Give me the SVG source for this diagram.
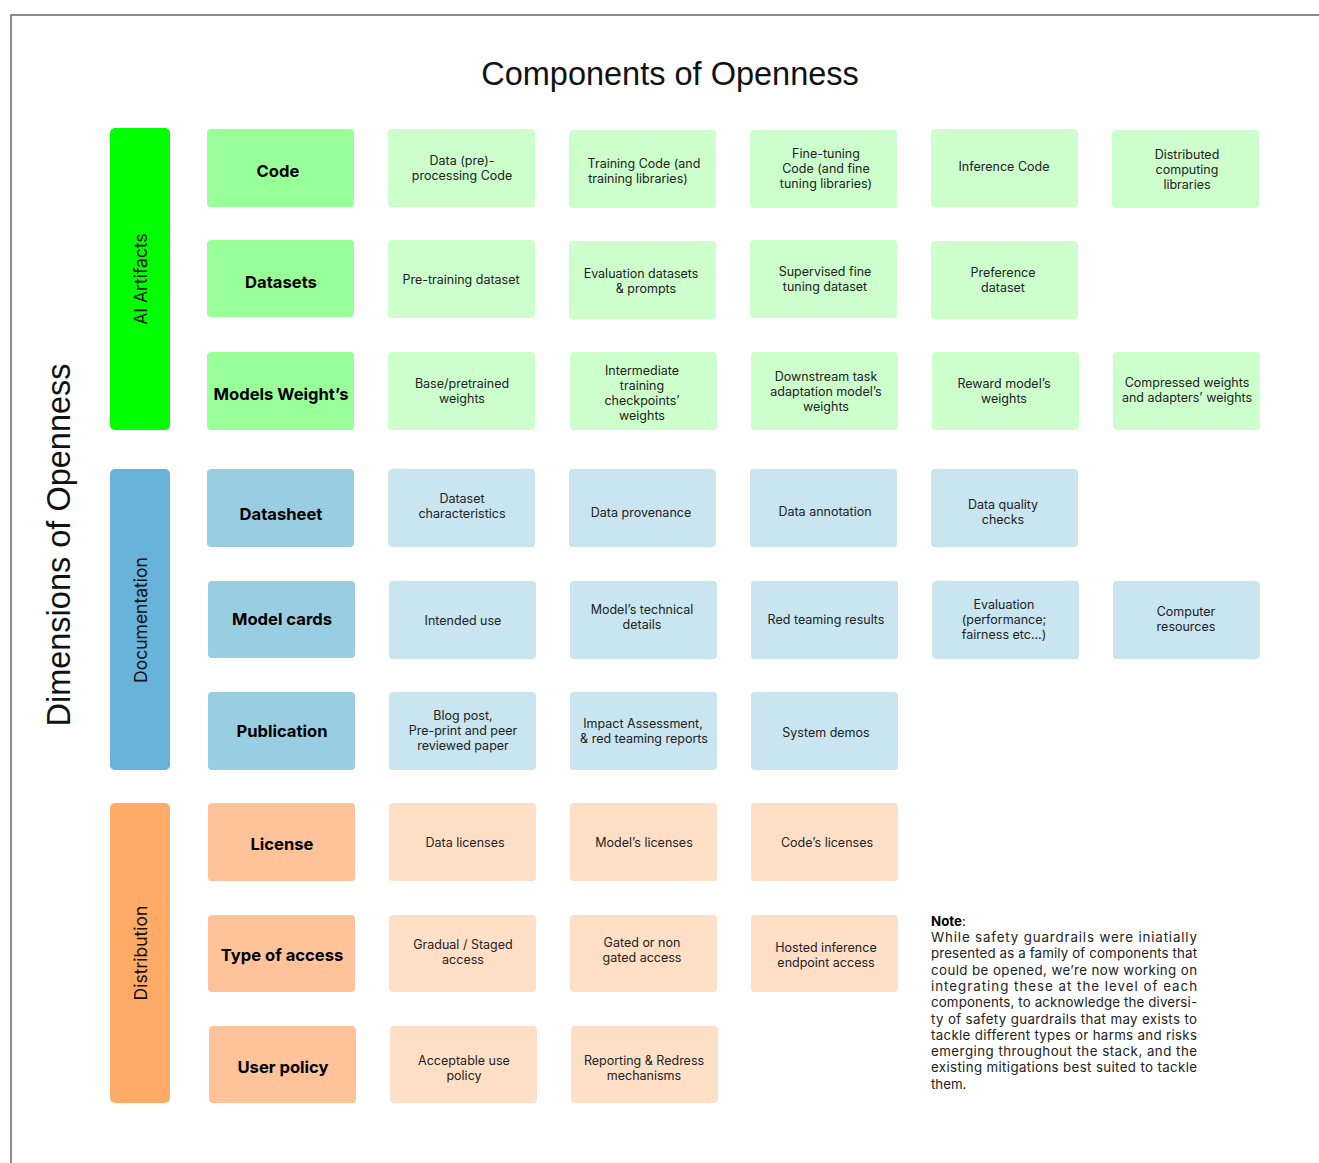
<svg xmlns="http://www.w3.org/2000/svg" width="1319" height="1163" viewBox="0 0 1319 1163">
<style>
.bg{fill:#ffffff}
.frame{fill:none;stroke:#666666;stroke-width:1.5}
.title{font-family:"Liberation Sans",Arial,sans-serif;font-size:32.5px;fill:#111111}
.barlabel{font-family:Inter,"Noto Sans",sans-serif;font-size:17.5px;fill:#111111;text-anchor:middle}
.hdr{font-family:Inter,"Noto Sans",sans-serif;font-size:16.6px;font-weight:700;fill:#000000;text-anchor:middle}
.cell{font-family:Inter,"Noto Sans",sans-serif;font-size:12.5px;fill:#222222;text-anchor:middle}
.gbar{fill:#00FF00}.ghdr{fill:#99FF99}.gcell{fill:#CCFFCC}
.bbar{fill:#67B3D9}.bhdr{fill:#99CDE1}.bcell{fill:#C8E5F0}
.obar{fill:#FFAA66}.ohdr{fill:#FFC299}.ocell{fill:#FFE0C6}
.note{font-family:Inter,"Noto Sans",sans-serif;font-size:13.3px;fill:#222222}
</style>
<rect class="bg" x="0" y="0" width="1319" height="1163"/>
<path class="frame" d="M11,1163 V15 H1319"/>
<text class="title" x="670" y="85" text-anchor="middle">Components of Openness</text>
<text class="title" transform="translate(70,545) rotate(-90)" text-anchor="middle">Dimensions of Openness</text>

<g id="bar-ai-artifacts"><rect class="gbar" x="110" y="128" width="60" height="302" rx="5"/><text class="barlabel" transform="translate(146.5,279) rotate(-90)">AI Artifacts</text></g>
<g id="bar-documentation"><rect class="bbar" x="110" y="469" width="60" height="301" rx="5"/><text class="barlabel" transform="translate(146.5,620) rotate(-90)">Documentation</text></g>
<g id="bar-distribution"><rect class="obar" x="110" y="803" width="60" height="300" rx="5"/><text class="barlabel" transform="translate(146.5,953) rotate(-90)">Distribution</text></g>

<!-- Row 1 -->
<g id="code"><rect class="ghdr" x="207" y="129" width="147" height="78" rx="4"/><text class="hdr" x="278" y="177">Code</text></g>
<g id="data-preprocessing-code"><rect class="gcell" x="388" y="129" width="147" height="78" rx="4"/><text class="cell" x="462" y="165">Data (pre)-</text><text class="cell" x="462" y="180">processing Code</text></g>
<g id="training-code"><rect class="gcell" x="569" y="130" width="147" height="78" rx="4"/><text class="cell" x="644" y="168">Training Code (and</text><text class="cell" x="638" y="183">training libraries)</text></g>
<g id="fine-tuning-code"><rect class="gcell" x="750" y="130" width="147" height="78" rx="4"/><text class="cell" x="826" y="158">Fine-tuning</text><text class="cell" x="826" y="173">Code (and fine</text><text class="cell" x="826" y="188">tuning libraries)</text></g>
<g id="inference-code"><rect class="gcell" x="931" y="129" width="147" height="78" rx="4"/><text class="cell" x="1004" y="171">Inference Code</text></g>
<g id="distributed-computing"><rect class="gcell" x="1112" y="130" width="147" height="78" rx="4"/><text class="cell" x="1187" y="159">Distributed</text><text class="cell" x="1187" y="174">computing</text><text class="cell" x="1187" y="189">libraries</text></g>

<!-- Row 2 -->
<g id="datasets"><rect class="ghdr" x="207" y="240" width="147" height="77" rx="4"/><text class="hdr" x="281" y="288">Datasets</text></g>
<g id="pre-training-dataset"><rect class="gcell" x="388" y="240" width="147" height="78" rx="4"/><text class="cell" x="461" y="284">Pre-training dataset</text></g>
<g id="evaluation-datasets"><rect class="gcell" x="569" y="241" width="147" height="78" rx="4"/><text class="cell" x="641" y="278">Evaluation datasets</text><text class="cell" x="646" y="293">&amp; prompts</text></g>
<g id="supervised-fine-tuning"><rect class="gcell" x="750" y="240" width="147" height="78" rx="4"/><text class="cell" x="825" y="276">Supervised fine</text><text class="cell" x="825" y="291">tuning dataset</text></g>
<g id="preference-dataset"><rect class="gcell" x="931" y="241" width="147" height="78" rx="4"/><text class="cell" x="1003" y="277">Preference</text><text class="cell" x="1003" y="292">dataset</text></g>

<!-- Row 3 -->
<g id="models-weights"><rect class="ghdr" x="207" y="352" width="147" height="78" rx="4"/><text class="hdr" x="281" y="400">Models Weight’s</text></g>
<g id="base-pretrained-weights"><rect class="gcell" x="388" y="352" width="147" height="78" rx="4"/><text class="cell" x="462" y="388">Base/pretrained</text><text class="cell" x="462" y="403">weights</text></g>
<g id="intermediate-checkpoints"><rect class="gcell" x="570" y="352" width="147" height="78" rx="4"/><text class="cell" x="642" y="375">Intermediate</text><text class="cell" x="642" y="390">training</text><text class="cell" x="642" y="405">checkpoints’</text><text class="cell" x="642" y="420">weights</text></g>
<g id="downstream-adaptation"><rect class="gcell" x="751" y="352" width="147" height="78" rx="4"/><text class="cell" x="826" y="381">Downstream task</text><text class="cell" x="826" y="396">adaptation model’s</text><text class="cell" x="826" y="411">weights</text></g>
<g id="reward-model-weights"><rect class="gcell" x="932" y="352" width="147" height="78" rx="4"/><text class="cell" x="1004" y="388">Reward model’s</text><text class="cell" x="1004" y="403">weights</text></g>
<g id="compressed-weights"><rect class="gcell" x="1113" y="352" width="147" height="78" rx="4"/><text class="cell" x="1187" y="387">Compressed weights</text><text class="cell" x="1187" y="402">and adapters’ weights</text></g>

<!-- Row 4 -->
<g id="datasheet"><rect class="bhdr" x="207" y="469" width="147" height="78" rx="4"/><text class="hdr" x="281" y="520">Datasheet</text></g>
<g id="dataset-characteristics"><rect class="bcell" x="388" y="469" width="147" height="78" rx="4"/><text class="cell" x="462" y="503">Dataset</text><text class="cell" x="462" y="518">characteristics</text></g>
<g id="data-provenance"><rect class="bcell" x="569" y="469" width="147" height="78" rx="4"/><text class="cell" x="641" y="517">Data provenance</text></g>
<g id="data-annotation"><rect class="bcell" x="750" y="469" width="147" height="78" rx="4"/><text class="cell" x="825" y="516">Data annotation</text></g>
<g id="data-quality-checks"><rect class="bcell" x="931" y="469" width="147" height="78" rx="4"/><text class="cell" x="1003" y="509">Data quality</text><text class="cell" x="1003" y="524">checks</text></g>

<!-- Row 5 -->
<g id="model-cards"><rect class="bhdr" x="208" y="581" width="147" height="77" rx="4"/><text class="hdr" x="282" y="625">Model cards</text></g>
<g id="intended-use"><rect class="bcell" x="389" y="581" width="147" height="78" rx="4"/><text class="cell" x="463" y="625">Intended use</text></g>
<g id="technical-details"><rect class="bcell" x="570" y="581" width="147" height="78" rx="4"/><text class="cell" x="642" y="614">Model’s technical</text><text class="cell" x="642" y="629">details</text></g>
<g id="red-teaming-results"><rect class="bcell" x="751" y="581" width="147" height="78" rx="4"/><text class="cell" x="826" y="624">Red teaming results</text></g>
<g id="evaluation"><rect class="bcell" x="932" y="581" width="147" height="78" rx="4"/><text class="cell" x="1004" y="609">Evaluation</text><text class="cell" x="1004" y="624">(performance;</text><text class="cell" x="1004" y="639">fairness etc...)</text></g>
<g id="computer-resources"><rect class="bcell" x="1113" y="581" width="147" height="78" rx="4"/><text class="cell" x="1186" y="616">Computer</text><text class="cell" x="1186" y="631">resources</text></g>

<!-- Row 6 -->
<g id="publication"><rect class="bhdr" x="208" y="692" width="147" height="78" rx="4"/><text class="hdr" x="282" y="737">Publication</text></g>
<g id="blog-post"><rect class="bcell" x="389" y="692" width="147" height="78" rx="4"/><text class="cell" x="463" y="720">Blog post,</text><text class="cell" x="463" y="735">Pre-print and peer</text><text class="cell" x="463" y="750">reviewed paper</text></g>
<g id="impact-assessment"><rect class="bcell" x="570" y="692" width="147" height="78" rx="4"/><text class="cell" x="643" y="728">Impact Assessment,</text><text class="cell" x="644" y="743">&amp; red teaming reports</text></g>
<g id="system-demos"><rect class="bcell" x="751" y="692" width="147" height="78" rx="4"/><text class="cell" x="826" y="737">System demos</text></g>

<!-- Row 7 -->
<g id="license"><rect class="ohdr" x="208" y="803" width="147" height="78" rx="4"/><text class="hdr" x="282" y="850">License</text></g>
<g id="data-licenses"><rect class="ocell" x="389" y="803" width="147" height="78" rx="4"/><text class="cell" x="465" y="847">Data licenses</text></g>
<g id="model-licenses"><rect class="ocell" x="570" y="803" width="147" height="78" rx="4"/><text class="cell" x="644" y="847">Model’s licenses</text></g>
<g id="code-licenses"><rect class="ocell" x="751" y="803" width="147" height="78" rx="4"/><text class="cell" x="827" y="847">Code’s licenses</text></g>

<!-- Row 8 -->
<g id="type-of-access"><rect class="ohdr" x="208" y="915" width="147" height="77" rx="4"/><text class="hdr" x="282" y="961">Type of access</text></g>
<g id="gradual-staged-access"><rect class="ocell" x="389" y="915" width="147" height="77" rx="4"/><text class="cell" x="463" y="949">Gradual / Staged</text><text class="cell" x="463" y="964">access</text></g>
<g id="gated-access"><rect class="ocell" x="570" y="915" width="147" height="77" rx="4"/><text class="cell" x="642" y="947">Gated or non</text><text class="cell" x="642" y="962">gated access</text></g>
<g id="hosted-inference"><rect class="ocell" x="751" y="915" width="147" height="77" rx="4"/><text class="cell" x="826" y="952">Hosted inference</text><text class="cell" x="826" y="967">endpoint access</text></g>

<!-- Row 9 -->
<g id="user-policy"><rect class="ohdr" x="209" y="1026" width="147" height="77" rx="4"/><text class="hdr" x="283" y="1073">User policy</text></g>
<g id="acceptable-use-policy"><rect class="ocell" x="390" y="1026" width="147" height="77" rx="4"/><text class="cell" x="464" y="1065">Acceptable use</text><text class="cell" x="464" y="1080">policy</text></g>
<g id="reporting-redress"><rect class="ocell" x="571" y="1026" width="147" height="77" rx="4"/><text class="cell" x="644" y="1065">Reporting &amp; Redress</text><text class="cell" x="644" y="1080">mechanisms</text></g>

<!-- Note -->
<g id="note">
<text class="note" x="931" y="926"><tspan font-weight="700" fill="#000">Note</tspan>:</text>
<text class="note" x="931" y="942" textLength="266" lengthAdjust="spacing">While safety guardrails were iniatially</text>
<text class="note" x="931" y="958.3" textLength="266" lengthAdjust="spacing">presented as a family of components that</text>
<text class="note" x="931" y="974.6" textLength="266" lengthAdjust="spacing">could be opened, we’re now working on</text>
<text class="note" x="931" y="990.9" textLength="266" lengthAdjust="spacing">integrating these at the level of each</text>
<text class="note" x="931" y="1007.2" textLength="266" lengthAdjust="spacing">components, to acknowledge the diversi-</text>
<text class="note" x="931" y="1023.5" textLength="266" lengthAdjust="spacing">ty of safety guardrails that may exists to</text>
<text class="note" x="931" y="1039.8" textLength="266" lengthAdjust="spacing">tackle different types or harms and risks</text>
<text class="note" x="931" y="1056.1" textLength="266" lengthAdjust="spacing">emerging throughout the stack, and the</text>
<text class="note" x="931" y="1072.4" textLength="266" lengthAdjust="spacing">existing mitigations best suited to tackle</text>
<text class="note" x="931" y="1088.7">them.</text>
</g>
<g id="connectors"/>
</svg>
